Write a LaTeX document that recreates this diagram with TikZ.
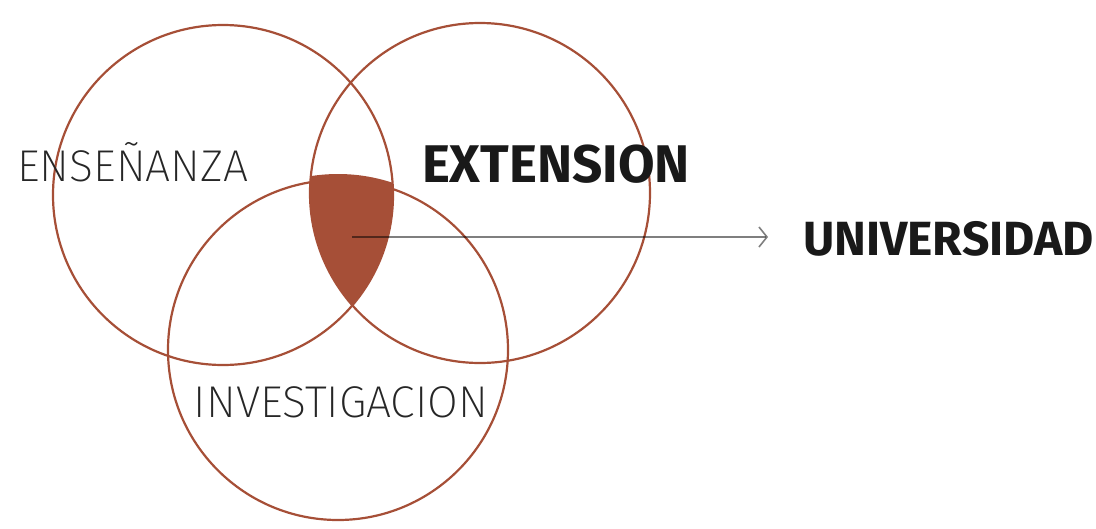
\documentclass[tikz,border=0pt]{standalone}
\usepackage{fontspec}
\usepackage{xcolor}
\usetikzlibrary{arrows.meta}
\usetikzlibrary{positioning}
\setmainfont{Fira Sans}
\newfontfamily\thinfont{Fira Sans}[UprightFont=* ExtraLight]
\definecolor{venn}{HTML}{A64F37}
\tikzset{ring/.style={circle, draw=venn, line width=2.2pt, minimum size=340pt, inner sep=0pt},
	thinlabel/.style={text=black!85, font=\thinfont\fontsize{44.5}{44.5}\selectfont, inner sep=0pt},
	boldlabel/.style={text=black!90, font=\bfseries\fontsize{48}{48}\selectfont, inner sep=0pt}}

\begin{document}
\begin{tikzpicture}[x=1pt, y=-1pt]
\useasboundingbox (0,0) rectangle (1096,528);

% shaded core
\begin{scope}
	\clip (223,195) circle (170);
	\clip (480,193) circle (170);
	\fill[venn] (338,347) circle (173);
\end{scope}

% circles
\node[ring] (ensenanza) at (223,195) {};
\node[ring] (extension) at (480,193) {};
\node[ring] (investigacion) at (338,350) {};

% labels
\node[thinlabel] (lblA) at (133,162) {ENSEÑANZA};
\node[boldlabel, font=\bfseries\fontsize{53}{53}\selectfont] (lblB) at (556,164) {EXTENSION};
\node[thinlabel] (lblC) at (341,402) {INVESTIGACION};
\node[boldlabel, anchor=west] (univ) at (803,239) {UNIVERSIDAD};

% arrow
\coordinate (core) at (352,237);
\draw[black, opacity=0.5, line width=2.4pt, -{Straight Barb[length=8pt, width=20pt, line width=1.6pt]}, shorten >=35pt]
	(core) -- (core -| univ.west);
\end{tikzpicture}
\end{document}
